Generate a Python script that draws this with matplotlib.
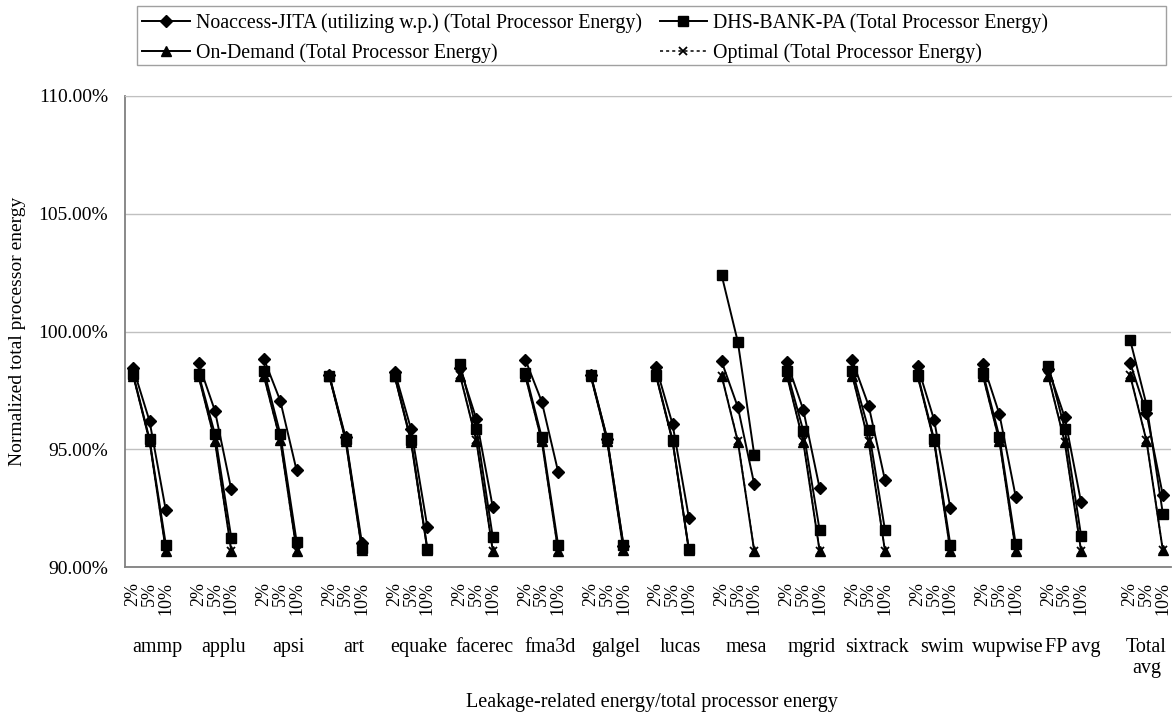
import matplotlib
matplotlib.use("Agg")
import matplotlib.pyplot as plt
import matplotlib.transforms as mtransforms
from matplotlib.patches import Rectangle

plt.rcParams['font.family'] = ['Liberation Serif', 'DejaVu Serif']

benchmarks = ["ammp", "applu", "apsi", "art", "equake", "facerec", "fma3d",
              "galgel", "lucas", "mesa", "mgrid", "sixtrack", "swim",
              "wupwise", "FP avg", "Total\navg"]
leakage = ["2%", "5%", "10%"]

# normalized total processor energy (%), one triple (2%, 5%, 10%) per benchmark
noaccess = [(98.45, 96.20, 92.40), (98.65, 96.64, 93.30), (98.84, 97.06, 94.10),
            (98.15, 95.50, 91.00), (98.30, 95.86, 91.70), (98.45, 96.28, 92.55),
            (98.80, 97.02, 94.05), (98.15, 95.45, 90.90), (98.48, 96.07, 92.10),
            (98.74, 96.78, 93.52), (98.70, 96.68, 93.35), (98.77, 96.85, 93.69),
            (98.52, 96.26, 92.50), (98.62, 96.49, 92.98), (98.40, 96.35, 92.74),
            (98.67, 96.53, 93.05)]
dhs = [(98.18, 95.43, 90.94), (98.20, 95.65, 91.25), (98.34, 95.65, 91.08),
       (98.13, 95.43, 90.82), (98.12, 95.39, 90.78), (98.62, 95.86, 91.28),
       (98.24, 95.51, 90.94), (98.16, 95.46, 90.94), (98.16, 95.39, 90.75),
       (102.41, 99.55, 94.77), (98.31, 95.79, 91.57), (98.34, 95.82, 91.57),
       (98.17, 95.43, 90.94), (98.23, 95.53, 90.96), (98.55, 95.86, 91.32),
       (99.64, 96.89, 92.27)]
ondemand = [(98.13, 95.36, 90.70), (98.10, 95.36, 90.70), (98.10, 95.38, 90.70),
            (98.10, 95.36, 90.72), (98.10, 95.32, 90.72), (98.13, 95.36, 90.70),
            (98.10, 95.35, 90.70), (98.10, 95.35, 90.72), (98.10, 95.35, 90.72),
            (98.13, 95.32, 90.68), (98.13, 95.32, 90.68), (98.13, 95.32, 90.68),
            (98.10, 95.35, 90.68), (98.10, 95.35, 90.70), (98.09, 95.29, 90.68),
            (98.13, 95.36, 90.71)]
optimal = [(98.13, 95.36, 90.70), (98.10, 95.36, 90.70), (98.10, 95.38, 90.70),
           (98.10, 95.36, 90.72), (98.10, 95.32, 90.72), (98.15, 95.38, 90.70),
           (98.10, 95.35, 90.70), (98.10, 95.35, 90.72), (98.10, 95.35, 90.72),
           (98.13, 95.34, 90.70), (98.13, 95.34, 90.70), (98.13, 95.34, 90.70),
           (98.10, 95.35, 90.68), (98.10, 95.35, 90.70), (98.09, 95.31, 90.70),
           (98.15, 95.38, 90.72)]

series = [
    ("Noaccess-JITA (utilizing w.p.) (Total Processor Energy)", noaccess,
     dict(color="black", lw=1.4, marker="D", ms=5.8, ls="-")),
    ("DHS-BANK-PA (Total Processor Energy)", dhs,
     dict(color="black", lw=1.4, marker="s", ms=7.3, ls="-")),
    ("On-Demand (Total Processor Energy)", ondemand,
     dict(color="black", lw=1.4, marker="^", ms=7.3, ls="-")),
    ("Optimal (Total Processor Energy)", optimal,
     dict(color="black", lw=1.1, marker="x", ms=6, mew=1.3, ls=(0, (2, 2)))),
]


def group_start(g):
    # one empty slot after each group, an extra one before the total average
    start = 4 * g
    if g == len(benchmarks) - 1:
        start += 1
    return start


fig = plt.figure(figsize=(11.75, 7.17), dpi=100)
ax = fig.add_axes([125 / 1175, 1 - 567 / 717, 1046 / 1175, 471 / 717])

handles = {}
for name, values, style in series:
    for g, vals in enumerate(values):
        xs = [group_start(g) + k for k in range(len(vals))]
        line, = ax.plot(xs, vals, **style)
    handles[name] = line

n_slots = group_start(len(benchmarks) - 1) + 3
ax.set_xlim(-0.5, n_slots - 0.5)
ax.set_ylim(90, 110)
ax.set_yticks([90, 95, 100, 105, 110])
ax.set_yticklabels(["%.2f%%" % v for v in [90, 95, 100, 105, 110]], fontsize=14)

ticks, labels = [], []
for g in range(len(benchmarks)):
    for k, lab in enumerate(leakage):
        ticks.append(group_start(g) + k)
        labels.append(lab)
ax.set_xticks(ticks)
ax.set_xticklabels(labels, rotation=90, fontsize=13, va="top", ha="center")
ax.tick_params(axis="x", length=0, pad=11)
ax.tick_params(axis="y", length=0, pad=12)

ax.yaxis.grid(True, color="#c0c0c0", lw=1)
ax.set_axisbelow(True)
for side in ["left", "bottom"]:
    ax.spines[side].set_color("#808080")
    ax.spines[side].set_linewidth(1.3)
ax.spines["top"].set_color("#c0c0c0")
ax.spines["right"].set_visible(False)

trans = mtransforms.blended_transform_factory(ax.transData, ax.transAxes)
for g, name in enumerate(benchmarks):
    ax.text(group_start(g) + 1.5 if g < len(benchmarks) - 1 else group_start(g) + 1,
            -0.15, name, transform=trans, ha="center", va="top",
            fontsize=14.5, linespacing=1.15)

fig.text(18 / 1175, 1 - 331 / 717, "Normalized total processor energy",
         rotation=90, ha="center", va="center", fontsize=14)
fig.text(652 / 1175, 1 - 703 / 717, "Leakage-related energy/total processor energy",
         ha="center", va="center", fontsize=14.5)

# legend box is wider than its content
fig.patches.append(Rectangle((137 / 1175, 1 - 65 / 717), 1029 / 1175, 59 / 717,
                             transform=fig.transFigure, fill=False,
                             edgecolor="#a0a0a0", lw=1.0))
order = [series[0][0], series[2][0], series[1][0], series[3][0]]
leg = fig.legend([handles[n] for n in order], order, ncol=2,
                 loc="upper left", bbox_to_anchor=(142 / 1175, 1 - 13 / 717),
                 fontsize=14.3, frameon=False,
                 handlelength=2.4, handletextpad=0.3, columnspacing=0.9,
                 labelspacing=0.55, borderpad=0, borderaxespad=0)

fig.savefig("out.png", dpi=100)
